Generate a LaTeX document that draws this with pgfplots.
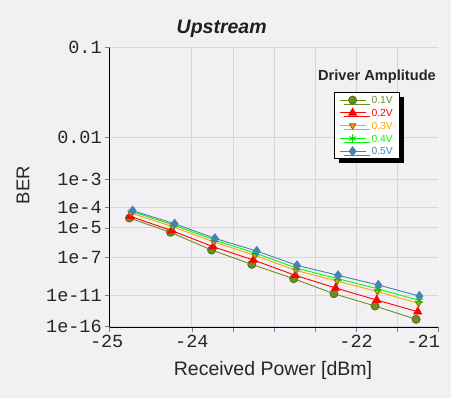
\documentclass[border=0pt]{standalone}
\usepackage{pgfplots}
\pgfplotsset{compat=1.18}
\usepackage{fontspec}
\setmainfont{Liberation Sans}
\setmonofont{Liberation Mono}
\usetikzlibrary{shadows}
\definecolor{bg}{RGB}{242,240,243}
\definecolor{gridc}{RGB}{216,214,220}
\definecolor{oliveC}{RGB}{107,142,35}
\definecolor{redC}{RGB}{255,0,0}
\definecolor{orangeC}{RGB}{255,165,0}
\definecolor{greenC}{RGB}{0,255,0}
\definecolor{blueC}{RGB}{70,130,180}
\begin{document}
\begin{tikzpicture}
\path[use as bounding box, fill=bg] (-109.7pt,-70.7pt) rectangle (341.3pt,327.3pt);
\begin{axis}[
  at={(0pt,0pt)}, anchor=south west, scale only axis,
  width=328.6pt, height=279.6pt,
  xmin=-25, xmax=-21,
  ymode=log, y dir=reverse, ymin=1.2816, ymax=8.28, yminorticks=false,
  axis lines=left, axis line style={-, black, line width=1pt},
  xtick={-24,-23.5,-23,-22.5,-22,-21.5},
  xticklabels={-24,,,,-22,},
  extra x ticks={-25,-21},
  extra x tick labels={{-25\hspace*{6pt}},{-21\hspace*{30pt}}},
  extra x tick style={grid=none},
  ytick={1.2816,2.3263,3.0902,3.7190,4.2649,5.1993,6.7060,8.2221},
  yticklabels={0.1,0.01,1e-3,1e-4,1e-5,1e-7,1e-11,1e-16},
  xmajorgrids, ymajorgrids,
  grid style={gridc, line width=0.8pt},
  tick align=outside, major tick length=4.5pt,
  tick style={gray, line width=0.6pt},
  ticklabel style={font=\ttfamily\fontsize{18.5}{18.5}\selectfont, text=black!85},
  /pgf/number format/assume math mode=true,
  legend style={at={(0.6835,0.8405)}, anchor=north west, draw=black, fill=white,
    line width=0.8pt, font=\fontsize{10.3}{10.3}\selectfont,
    drop shadow={shadow xshift=4pt, shadow yshift=-4pt, opacity=1, fill=black},
    row sep=0pt, column sep=3pt, inner xsep=4.5pt, inner ysep=1pt,
    nodes={inner xsep=2.5pt, inner ysep=2.8pt, text height=7.2pt, text depth=0pt}},
  legend cell align=left,
  legend image code/.code={\draw[mark repeat=2,mark phase=2] plot coordinates {(0pt,0pt) (13pt,0pt) (26pt,0pt)};},
]
\addplot[oliveC, line width=0.9pt, mark=*, mark size=4pt, mark options={fill=oliveC, draw=oliveC!80!black}]
 coordinates {(-24.76,3.994) (-24.26,4.393) (-23.76,4.945) (-23.27,5.441) (-22.76,5.989) (-22.27,6.619) (-21.77,7.184) (-21.27,7.852)};
\addlegendentry{\textcolor{oliveC}{0.1V}}
\addplot[redC, line width=0.9pt, mark=triangle*, mark size=4.5pt, mark options={fill=redC, draw=redC}]
 coordinates {(-24.75,3.949) (-24.24,4.347) (-23.74,4.837) (-23.25,5.286) (-22.74,5.854) (-22.25,6.371) (-21.75,6.904) (-21.25,7.465)};
\addlegendentry{\textcolor{redC}{0.2V}}
\addplot[orangeC, line width=0.9pt, mark=triangle*, mark size=3.5pt, mark options={rotate=180, fill=orangeC, draw=orangeC!60!black}]
 coordinates {(-24.74,3.863) (-24.23,4.233) (-23.73,4.688) (-23.23,5.126) (-22.73,5.667) (-22.23,6.086) (-21.74,6.523) (-21.24,7.058)};
\addlegendentry{\textcolor{orangeC}{0.3V}}
\addplot[greenC, line width=0.9pt, mark=asterisk, mark size=4pt, mark options={draw=greenC!80!black, line width=0.8pt}]
 coordinates {(-24.73,3.824) (-24.22,4.185) (-23.72,4.629) (-23.22,5.055) (-22.72,5.584) (-22.22,5.989) (-21.73,6.410) (-21.23,6.927)};
\addlegendentry{\textcolor{greenC}{0.4V}}
\addplot[blueC, line width=0.9pt, mark=diamond*, mark size=4.5pt, mark options={fill=blueC, draw=blueC}]
 coordinates {(-24.72,3.804) (-24.21,4.149) (-23.72,4.574) (-23.21,4.978) (-22.72,5.477) (-22.22,5.854) (-21.73,6.245) (-21.23,6.722)};
\addlegendentry{\textcolor{blueC}{0.5V}}
\end{axis}
\node[anchor=base, font=\bfseries\itshape\fontsize{19.5}{19.5}\selectfont, text=black!88] at (112pt,294pt) {Upstream};
\node[anchor=base, font=\fontsize{19.5}{19.5}\selectfont, text=black!85] at (163.3pt,-48.7pt) {Received Power [dBm]};
\node[rotate=90, font=\fontsize{18.5}{18.5}\selectfont, text=black!85] at (-86.7pt,142.3pt) {BER};
\node[font=\bfseries\fontsize{14.6}{14.6}\selectfont, text=black!85] at (267.3pt,250.3pt) {Driver Amplitude};
\end{tikzpicture}
\end{document}
